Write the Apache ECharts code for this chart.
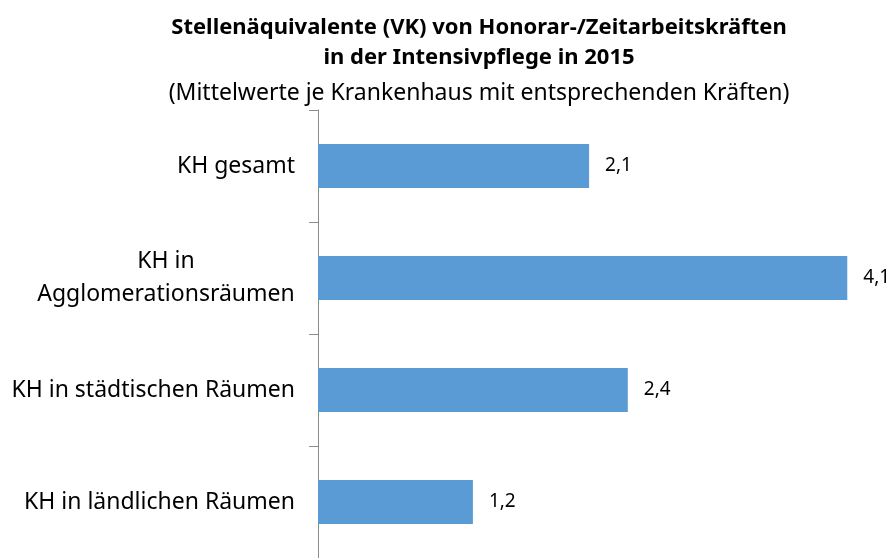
<!DOCTYPE html>
<html>
<head>
<meta charset="utf-8">
<script src="https://cdn.jsdelivr.net/npm/echarts@6/dist/echarts.min.js"></script>
<style>
  html, body { margin: 0; padding: 0; background: #fff; }
  #chart { width: 894px; height: 558px; }
</style>
</head>
<body>
<div id="chart"></div>
<script>
const CATEGORIES = ['KH gesamt', 'KH in\nAgglomerationsräumen', 'KH in städtischen Räumen', 'KH in ländlichen Räumen'];
const VALUES = [2.1, 4.1, 2.4, 1.2];

const FONT = '"Noto Sans", sans-serif';
const LABEL_SIZE = 23;

// width of the longest line in the two-line label, so both lines centre on it
const ctx = document.createElement('canvas').getContext('2d');
ctx.font = LABEL_SIZE + 'px "Noto Sans"';
const multiW = Math.ceil(Math.max(...CATEGORIES[1].split('\n').map((s) => ctx.measureText(s).width)));

const chart = echarts.init(document.getElementById('chart'), null, { renderer: 'canvas' });

chart.setOption({
  backgroundColor: '#fff',
  animation: false,
  title: {
    text: 'Stellenäquivalente (VK) von Honorar-/Zeitarbeitskräften\nin der Intensivpflege in 2015',
    subtext: '(Mittelwerte je Krankenhaus mit entsprechenden Kräften)',
    left: 474,
    top: 8,
    textAlign: 'center',
    itemGap: 5,
    textStyle: { fontFamily: FONT, fontSize: 22, fontWeight: 'bold', color: '#000', lineHeight: 30 },
    subtextStyle: { fontFamily: FONT, fontSize: 23, color: '#000', lineHeight: 30 },
  },
  grid: { left: 318, right: 8, top: 110, bottom: 0, containLabel: false },
  xAxis: {
    type: 'value',
    min: 0,
    max: 4.4,
    show: false,
  },
  yAxis: {
    type: 'category',
    inverse: true,
    data: CATEGORIES,
    axisLine: { show: true, lineStyle: { color: '#8c8c8c', width: 1 } },
    axisTick: { show: true, inside: false, length: 9, lineStyle: { color: '#8c8c8c' } },
    axisLabel: {
      margin: 23,
      color: '#000',
      fontFamily: FONT,
      fontSize: LABEL_SIZE,
      lineHeight: 33,
      formatter: (v) => {
        if (v.indexOf('\n') < 0) return v;
        return v.split('\n').map((s) => '{c|' + s + '}').join('\n');
      },
      rich: {
        c: { align: 'center', width: multiW, fontFamily: FONT, fontSize: LABEL_SIZE, lineHeight: 33, color: '#000' },
      },
    },
    splitLine: { show: false },
  },
  series: [
    {
      type: 'bar',
      data: VALUES,
      barWidth: 44,
      itemStyle: { color: '#5b9bd5' },
      label: {
        show: true,
        position: 'right',
        distance: 16,
        color: '#000',
        fontFamily: FONT,
        fontSize: 19,
        formatter: (p) => String(p.value).replace('.', ','),
      },
    },
  ],
});
</script>
</body>
</html>
